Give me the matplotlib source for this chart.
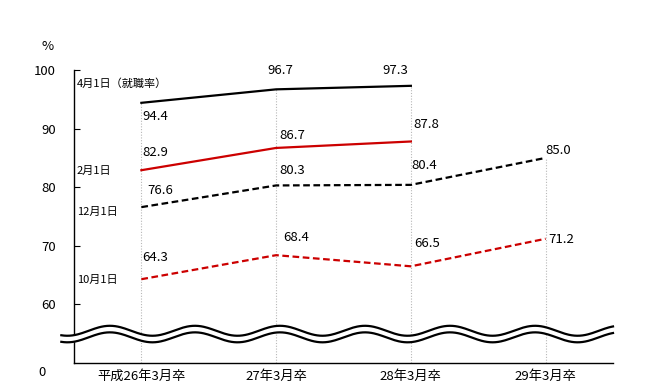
import matplotlib
matplotlib.use('Agg')
import matplotlib.pyplot as plt
import numpy as np

plt.rcParams['font.family'] = ['Noto Sans CJK JP', 'DejaVu Sans']

categories = ['平成26年3月卒', '27年3月卒', '28年3月卒', '29年3月卒']
series_names = ['4月1日（就職率）', '2月1日', '12月1日', '10月1日']
apr1 = [94.4, 96.7, 97.3, np.nan]
feb1 = [82.9, 86.7, 87.8, np.nan]
dec1 = [76.6, 80.3, 80.4, 85.0]
oct1 = [64.3, 68.4, 66.5, 71.2]
y_ticks = [60, 70, 80, 90, 100]

# label offsets in pixels for each point (layout only)
offsets = {
    'apr': [(1, -14), (4, 19), (-16, 15), None],
    'feb': [(1, 18), (3, 12), (3, 17), None],
    'dec': [(6, 17), (3, 15), (1, 19), (0, 7)],
    'oct': [(1, 22), (7, 18), (3, 23), (3, -1)],
}

fig = plt.figure(figsize=(6.48, 3.92), dpi=100)
ax = fig.add_axes([74/648, 29/392, 539/648, 293/392])
x = np.arange(len(categories))

# gray drop lines from the top value of each category
tops = np.nanmax(np.array([apr1, feb1, dec1, oct1]), axis=0)
for xi, t in zip(x, tops):
    ax.plot([xi, xi], [50, t], color='#b8b8b8', lw=0.8, ls=(0, (1, 1.5)), zorder=1)

red = '#cc0000'
styles = [
    ('apr', apr1, 'black', '-'),
    ('feb', feb1, red, '-'),
    ('dec', dec1, 'black', (0, (3, 1.6))),
    ('oct', oct1, red, (0, (3, 1.6))),
]
for key, vals, col, ls in styles:
    ax.plot(x, vals, color=col, lw=1.6, ls=ls, zorder=5)
    for xi, v, off in zip(x, vals, offsets[key]):
        if off is None or np.isnan(v):
            continue
        ax.annotate(f'{v:.1f}', xy=(xi, v), xytext=off, textcoords='offset pixels',
                    ha='left' if key != 'apr' or xi == 0 else 'center',
                    va='center', fontsize=9.5, zorder=6)

# series names on the left
name_pos = [97.6, 82.8, 75.8, 64.2]
for name, yp in zip(series_names, name_pos):
    ax.text(-0.48, yp, name, fontsize=8, ha='left', va='center')

# axis break wave
wx = np.linspace(-0.594, 3.5, 400)
period = 0.631
x0 = -0.549
upper = 55.5 - 0.85 * np.cos(2 * np.pi * (wx - x0) / period)
lower = 54.38 - 0.85 * np.cos(2 * np.pi * (wx - x0) / period)
ax.fill_between(wx, lower, upper, color='white', zorder=3, clip_on=False, lw=0)
ax.plot(wx, upper, color='black', lw=1.6, zorder=4, clip_on=False)
ax.plot(wx, lower, color='black', lw=1.6, zorder=4, clip_on=False)

ax.set_xlim(-0.5, 3.5)
ax.set_ylim(50, 100)
ax.set_xticks(x)
ax.set_xticklabels(categories, fontsize=9.5)
ax.set_yticks(y_ticks)
ax.set_yticklabels([str(t) for t in y_ticks], fontsize=9.5)
ax.tick_params(axis='x', length=0, pad=5)
ax.tick_params(axis='y', direction='in', length=4, pad=13)
for s in ['top', 'right']:
    ax.spines[s].set_visible(False)
for s in ['left', 'bottom']:
    ax.spines[s].set_linewidth(1.0)

ax.annotate('0', xy=(0, 50), xycoords=('axes fraction', 'data'), xytext=(-32, -10),
            textcoords='offset pixels', ha='center', va='center', fontsize=9.5)
fig.text(48/648, 1 - 46/392, '%', fontsize=9.5, ha='center', va='center')

fig.savefig('out.png', dpi=100)
